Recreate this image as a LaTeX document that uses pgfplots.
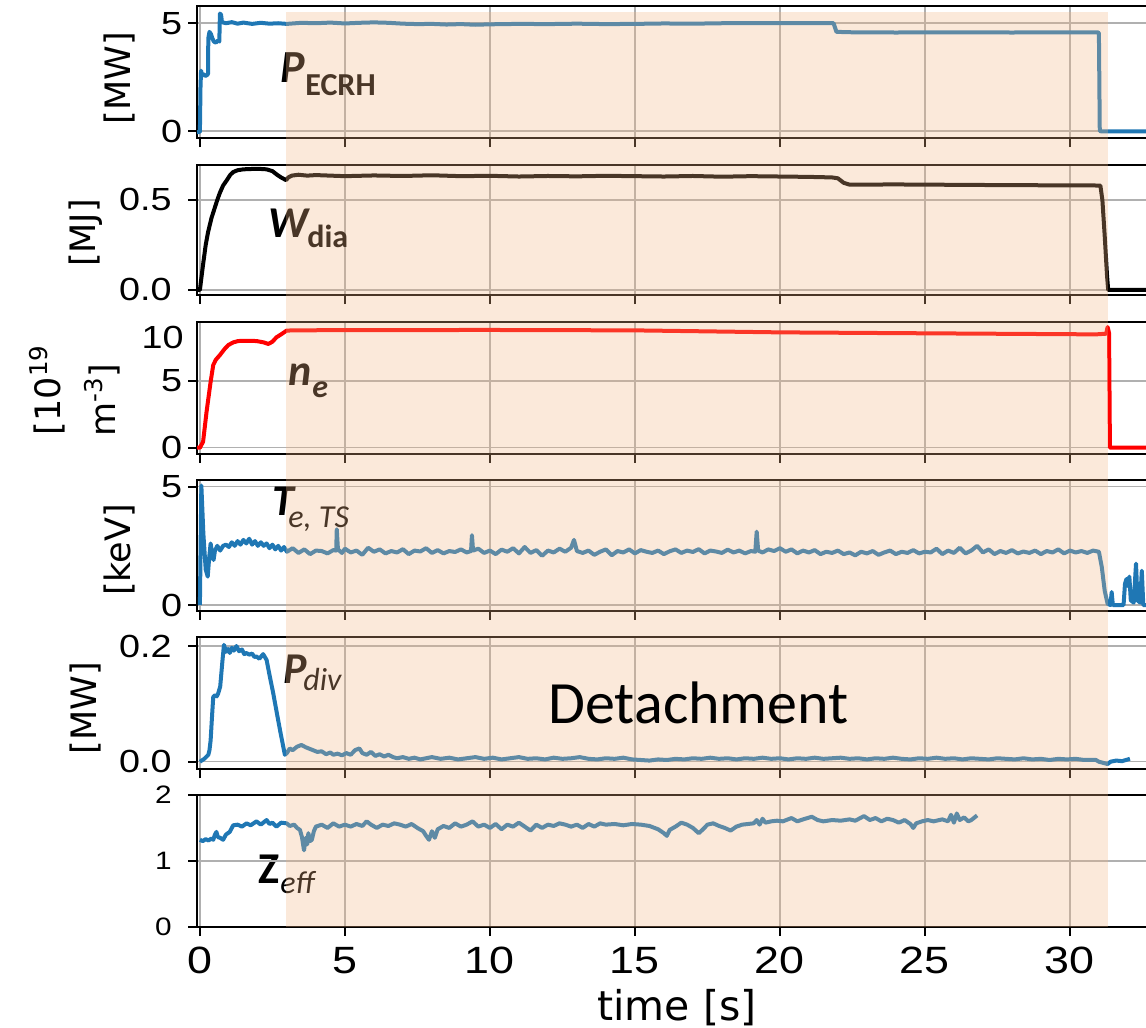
\documentclass[border=0pt]{standalone}
\usepackage{fontspec}
\setmainfont{DejaVu Sans}
\newfontfamily\calfont{Carlito}
\newfontfamily\tickfont[FakeStretch=1.18]{Liberation Sans}
\usepackage{pgfplots}
\usepackage{pgfplotstable}
\pgfplotsset{compat=1.18}
\definecolor{tabblue}{RGB}{31,119,180}
\definecolor{gridgray}{RGB}{176,176,176}
\definecolor{shadecol}{RGB}{242,182,132}

\pgfplotstableread{
x y
-0.1 -0.05
0.0 -0.05
0.02 2.0
0.04 2.8
0.07 2.6
0.12 2.65
0.18 2.55
0.25 2.6
0.28 2.65
0.29 4.3
0.33 4.6
0.38 4.5
0.43 4.3
0.48 4.15
0.55 4.1
0.62 4.2
0.67 4.15
0.69 5.45
0.73 5.4
0.76 5.05
0.9 5.0
1.1 5.05
1.3 4.98
1.5 5.03
1.8 4.97
2.1 5.02
2.4 4.98
2.7 5.0
3.0 4.97
3.5 5.02
4.0 5.0
4.5 5.03
5.0 4.99
5.5 5.02
6.0 5.04
6.5 5.02
7.0 4.98
7.5 4.96
8.0 4.97
8.5 4.94
9.0 4.96
9.5 4.93
10.0 4.95
11.0 4.97
12.0 4.96
13.0 4.98
14.0 4.96
15.0 4.97
16.0 4.99
17.0 4.98
18.0 5.0
19.0 5.01
20.0 5.0
21.0 5.01
21.85 5.0
21.95 4.6
22.5 4.58
24.0 4.57
26.0 4.58
28.0 4.57
30.0 4.58
30.95 4.58
31.0 4.55
31.03 0.0
31.1 -0.02
33.5 -0.02
}\tabP
\pgfplotstableread{
x y
-0.1 0.0
0.0 0.0
0.1 0.13
0.2 0.25
0.28 0.32
0.4 0.40
0.52 0.46
0.6 0.50
0.69 0.54
0.8 0.58
0.93 0.61
1.05 0.64
1.15 0.655
1.3 0.665
1.5 0.67
1.8 0.672
2.1 0.672
2.3 0.67
2.5 0.66
2.66 0.64
2.8 0.625
2.97 0.61
3.05 0.625
3.17 0.635
3.4 0.64
3.7 0.635
4.0 0.638
5.0 0.632
6.0 0.636
7.0 0.633
8.0 0.637
9.0 0.632
10.0 0.634
11.0 0.63
12.0 0.633
13.0 0.631
14.0 0.634
15.0 0.632
16.0 0.63
17.0 0.633
18.0 0.629
19.0 0.632
20.0 0.63
21.0 0.628
21.8 0.625
22.0 0.62
22.2 0.595
22.4 0.585
24.0 0.586
26.0 0.584
28.0 0.582
30.0 0.581
31.05 0.58
31.12 0.50
31.2 0.30
31.28 0.08
31.32 0.0
33.5 0.0
}\tabW
\pgfplotstableread{
x y
-0.1 0.0
0.0 0.0
0.11 0.45
0.23 2.7
0.37 4.95
0.46 6.2
0.55 6.6
0.69 6.95
0.85 7.4
0.98 7.7
1.15 7.9
1.32 8.0
1.6 8.02
1.95 8.0
2.2 7.9
2.36 7.78
2.5 7.95
2.64 8.28
2.8 8.5
2.99 8.78
3.2 8.8
5.0 8.82
10.0 8.83
15.0 8.8
20.0 8.65
25.0 8.58
30.9 8.5
31.25 8.55
31.3 9.05
31.35 8.6
31.38 0.0
33.5 0.0
}\tabN
\pgfplotstableread{
x y
0.0 0.0
0.05 5.05
0.12 3.0
0.2 1.5
0.27 1.2
0.32 2.0
0.37 2.6
0.42 2.2
0.47 1.9
0.52 2.3
0.6 2.5
0.7 2.3
0.8 2.5
0.9 2.55
1.0 2.45
1.1 2.65
1.2 2.5
1.3 2.7
1.4 2.55
1.5 2.75
1.6 2.6
1.7 2.8
1.8 2.55
1.9 2.7
2.0 2.5
2.1 2.65
2.2 2.5
2.3 2.6
2.4 2.4
2.5 2.55
2.6 2.35
2.7 2.5
2.8 2.3
2.9 2.45
3.0 2.25
3.2 2.40
3.4 2.20
3.6 2.35
3.8 2.15
4.0 2.30
4.2 2.28
4.4 2.18
4.6 2.32
4.7 2.30
4.72 3.2
4.76 2.35
4.9 2.20
5.0 2.38
5.2 2.22
5.4 2.30
5.6 2.12
5.8 2.42
6.0 2.25
6.2 2.35
6.4 2.18
6.6 2.28
6.8 2.22
7.0 2.36
7.2 2.15
7.4 2.30
7.6 2.26
7.8 2.40
8.0 2.20
8.2 2.32
8.4 2.18
8.6 2.28
8.8 2.24
9.0 2.35
9.2 2.22
9.35 2.28
9.38 2.95
9.42 2.30
9.6 2.38
9.8 2.20
10.0 2.30
10.2 2.15
10.4 2.34
10.6 2.25
10.8 2.40
11.0 2.18
11.2 2.45
11.4 2.20
11.6 2.32
11.8 2.08
12.0 2.30
12.2 2.22
12.4 2.38
12.6 2.25
12.8 2.42
12.9 2.75
13.0 2.28
13.2 2.20
13.4 2.30
13.6 2.12
13.8 2.25
14.0 2.35
14.2 2.10
14.4 2.28
14.6 2.22
14.8 2.35
15.0 2.18
15.2 2.32
15.4 2.25
15.6 2.20
15.8 2.30
16.0 2.15
16.2 2.27
16.4 2.35
16.6 2.20
16.8 2.30
17.0 2.24
17.2 2.36
17.4 2.18
17.6 2.30
17.8 2.26
18.0 2.20
18.2 2.34
18.4 2.22
18.6 2.30
18.8 2.18
19.0 2.28
19.15 2.25
19.2 3.1
19.25 2.30
19.4 2.22
19.6 2.35
19.8 2.28
20.0 2.40
20.2 2.25
20.4 2.35
20.6 2.18
20.8 2.30
21.0 2.22
21.2 2.32
21.4 2.15
21.6 2.25
21.8 2.20
22.0 2.30
22.2 2.15
22.4 2.22
22.6 2.10
22.8 2.25
23.0 2.18
23.2 2.28
23.4 2.12
23.6 2.22
23.8 2.30
24.0 2.15
24.2 2.25
24.4 2.20
24.6 2.32
24.8 2.18
25.0 2.25
25.2 2.22
25.4 2.38
25.6 2.15
25.8 2.30
26.0 2.20
26.2 2.42
26.4 2.18
26.6 2.30
26.8 2.50
27.0 2.22
27.2 2.35
27.4 2.15
27.6 2.28
27.8 2.20
28.0 2.32
28.2 2.18
28.4 2.26
28.6 2.20
28.8 2.30
29.0 2.15
29.2 2.28
29.4 2.22
29.6 2.35
29.8 2.18
30.0 2.30
30.2 2.22
30.4 2.28
30.6 2.20
30.8 2.30
31.0 2.25
31.1 1.6
31.2 0.6
31.3 0.05
31.4 0.0
31.44 0.55
31.48 0.0
31.85 0.0
31.9 0.9
31.95 1.1
32.0 0.8
32.05 1.2
32.1 0.2
32.2 0.1
32.28 1.75
32.33 0.2
32.42 0.1
32.48 1.45
32.53 0.0
33.5 0.0
}\tabT
\pgfplotstableread{
x y
0.0 0.0
0.15 0.005
0.29 0.012
0.33 0.02
0.37 0.037
0.42 0.08
0.46 0.112
0.52 0.115
0.58 0.113
0.63 0.118
0.7 0.13
0.78 0.176
0.83 0.202
0.9 0.19
0.97 0.195
1.03 0.188
1.1 0.197
1.17 0.192
1.26 0.2
1.35 0.191
1.45 0.194
1.53 0.186
1.61 0.188
1.7 0.185
1.8 0.187
1.88 0.181
1.95 0.182
2.05 0.178
2.18 0.186
2.3 0.176
2.4 0.15
2.53 0.118
2.65 0.085
2.78 0.05
2.93 0.012
3.0 0.015
3.1 0.023
3.2 0.02
3.35 0.026
3.5 0.029
3.65 0.025
3.8 0.022
3.9 0.02
4.05 0.017
4.2 0.018
4.35 0.013
4.5 0.016
4.6 0.012
4.75 0.014
4.9 0.011
5.05 0.015
5.2 0.012
5.35 0.02
5.5 0.023
5.6 0.015
5.75 0.012
5.9 0.017
6.05 0.01
6.2 0.013
6.35 0.009
6.5 0.012
6.66 0.008
6.8 0.006
7.0 0.008
7.2 0.005
7.4 0.007
7.6 0.004
7.8 0.006
8.0 0.008
8.3 0.005
8.6 0.007
8.9 0.004
9.2 0.006
9.5 0.008
9.8 0.005
10.1 0.007
10.4 0.004
10.7 0.006
11.0 0.008
11.3 0.005
11.6 0.006
11.9 0.004
12.2 0.007
12.5 0.005
12.8 0.006
13.1 0.008
13.4 0.005
13.7 0.004
14.0 0.006
14.3 0.005
14.6 0.007
14.9 0.004
15.2 0.003
15.5 0.002
15.8 0.004
16.1 0.003
16.4 0.005
16.7 0.004
17.0 0.006
17.3 0.005
17.6 0.007
17.9 0.005
18.2 0.006
18.5 0.004
18.8 0.006
19.1 0.005
19.4 0.007
19.7 0.005
20.0 0.006
20.3 0.004
20.6 0.006
20.9 0.005
21.2 0.007
21.5 0.005
21.8 0.006
22.1 0.007
22.4 0.005
22.7 0.006
23.0 0.004
23.3 0.006
23.6 0.005
23.9 0.007
24.2 0.005
24.5 0.004
24.8 0.006
25.1 0.005
25.4 0.007
25.7 0.005
26.0 0.006
26.3 0.004
26.6 0.006
26.9 0.005
27.2 0.004
27.5 0.006
27.8 0.005
28.1 0.004
28.4 0.006
28.7 0.004
29.0 0.005
29.3 0.003
29.6 0.005
29.9 0.004
30.2 0.005
30.5 0.003
30.9 0.003
31.0 0.0
31.3 -0.004
31.4 0.0
31.6 0.002
31.8 0.001
32.0 0.004
32.07 0.005
}\tabD
\pgfplotstableread{
x y
0.0 1.32
0.1 1.30
0.2 1.33
0.3 1.31
0.4 1.34
0.46 1.32
0.52 1.40
0.57 1.44
0.62 1.36
0.7 1.35
0.8 1.32
0.9 1.40
1.03 1.44
1.1 1.50
1.15 1.54
1.3 1.55
1.45 1.52
1.61 1.57
1.75 1.54
1.95 1.60
2.1 1.55
2.3 1.62
2.4 1.56
2.5 1.58
2.64 1.52
2.8 1.58
2.99 1.57
3.1 1.53
3.25 1.55
3.35 1.50
3.45 1.47
3.52 1.36
3.59 1.16
3.65 1.35
3.7 1.25
3.74 1.42
3.8 1.30
3.86 1.32
3.93 1.45
4.0 1.52
4.2 1.55
4.4 1.50
4.6 1.57
4.8 1.52
5.0 1.55
5.2 1.52
5.4 1.56
5.6 1.53
5.75 1.60
5.9 1.55
6.1 1.50
6.3 1.55
6.5 1.53
6.7 1.57
6.9 1.55
7.1 1.52
7.3 1.56
7.5 1.50
7.7 1.45
7.8 1.38
7.9 1.32
8.0 1.45
8.1 1.35
8.2 1.48
8.4 1.53
8.6 1.50
8.8 1.57
9.0 1.52
9.2 1.55
9.4 1.60
9.6 1.52
9.8 1.55
10.0 1.50
10.2 1.56
10.4 1.48
10.6 1.55
10.8 1.52
11.0 1.58
11.2 1.52
11.4 1.46
11.6 1.55
11.8 1.50
12.0 1.55
12.2 1.53
12.4 1.57
12.6 1.55
12.8 1.52
13.0 1.55
13.2 1.50
13.4 1.56
13.6 1.52
13.8 1.57
14.0 1.55
14.3 1.56
14.6 1.54
14.9 1.56
15.2 1.55
15.5 1.53
15.8 1.48
16.0 1.42
16.1 1.38
16.2 1.47
16.4 1.52
16.6 1.58
16.8 1.55
17.0 1.50
17.2 1.42
17.35 1.48
17.5 1.55
17.7 1.57
17.9 1.53
18.1 1.50
18.3 1.46
18.5 1.52
18.7 1.55
18.9 1.56
19.1 1.57
19.2 1.62
19.3 1.55
19.4 1.64
19.5 1.58
19.7 1.60
19.9 1.61
20.1 1.60
20.4 1.65
20.6 1.60
20.8 1.63
21.1 1.67
21.3 1.62
21.5 1.60
21.8 1.62
22.1 1.61
22.4 1.63
22.6 1.61
22.9 1.68
23.1 1.62
23.3 1.65
23.5 1.60
23.7 1.64
23.9 1.62
24.1 1.58
24.3 1.62
24.5 1.56
24.6 1.50
24.7 1.57
24.9 1.60
25.1 1.62
25.3 1.60
25.6 1.63
25.8 1.60
25.9 1.70
26.0 1.58
26.1 1.72
26.2 1.62
26.35 1.66
26.5 1.60
26.6 1.62
26.8 1.69
}\tabZ

\pgfplotsset{
  panel/.style={
    scale only axis, width=487.2pt, xmin=-0.1, xmax=33.5,
    anchor=north west, tick pos=left, tick align=outside,
    major tick length=4.5pt, xtick={0,5,...,30},
    grid=major, major grid style={line width=0.75pt, gridgray},
    axis line style={line width=1pt},
    every tick/.style={black, line width=1pt},
    /pgf/number format/assume math mode=true,
    yticklabel style={font=\tickfont\fontsize{16}{16}\selectfont, anchor=east, inner sep=0pt},
    xticklabels={},
  },
  near/.style={yticklabel style={xshift=-2.75pt}},
  far/.style={yticklabel style={xshift=-8pt}},
  dat/.style={line width=2pt, line join=round},
}

\begin{document}
\begin{tikzpicture}
\useasboundingbox (0,0) rectangle (573pt,-514pt);
\clip (0,0) rectangle (573pt,-514pt);

% Panel 1: P_ECRH
\begin{axis}[panel, near, at={(98.5pt,-3pt)}, height=66pt,
  ymin=-0.325, ymax=5.80, ytick={0,5}]
\addplot[dat, tabblue] table {\tabP};
\end{axis}

% Panel 2: W_dia
\begin{axis}[panel, far, at={(98.5pt,-82.5pt)}, height=65pt,
  ymin=-0.028, ymax=0.694, ytick={0,0.5},
  yticklabel style={/pgf/number format/fixed, /pgf/number format/fixed zerofill, /pgf/number format/precision=1}]
\addplot[dat, black] table {\tabW};
\end{axis}

% Panel 3: n_e
\begin{axis}[panel, near, at={(98.5pt,-160.85pt)}, height=66.15pt,
  ymin=-0.47, ymax=9.45, ytick={0,5}]
\addplot[dat, red] table {\tabN};
\end{axis}

% Panel 4: T_e
\begin{axis}[panel, near, at={(98.5pt,-240pt)}, height=65.35pt,
  ymin=-0.24, ymax=5.28, ytick={0,5}]
\addplot[dat, tabblue] table {\tabT};
\end{axis}

% Panel 5: P_div
\begin{axis}[panel, far, at={(98.5pt,-318.5pt)}, height=66.15pt,
  ymin=-0.0131, ymax=0.2156, ytick={0,0.2},
  yticklabel style={/pgf/number format/fixed, /pgf/number format/fixed zerofill, /pgf/number format/precision=1}]
\addplot[dat, tabblue] table {\tabD};
\end{axis}

% annotations (under the shading)
\begin{scope}[every node/.style={inner sep=0pt, anchor=base west}]
\node[font=\calfont\fontsize{23}{23}\selectfont\bfseries\itshape] at (140pt,-41.5pt) {P};
\node[font=\calfont\fontsize{16}{16}\selectfont\bfseries] at (152.5pt,-47.5pt) {ECRH};
\node[font=\calfont\fontsize{22}{22}\selectfont\bfseries\itshape] at (134pt,-118.5pt) {W};
\node[font=\calfont\fontsize{16}{16}\selectfont\bfseries] at (153.5pt,-123.5pt) {dia};
\node[font=\calfont\fontsize{22}{22}\selectfont\bfseries\itshape] at (144pt,-192.5pt) {n};
\node[font=\calfont\fontsize{16}{16}\selectfont\bfseries\itshape] at (156pt,-198.5pt) {e};
\node[font=\calfont\fontsize{22}{22}\selectfont\bfseries\itshape] at (136pt,-257.5pt) {T};
\node[font=\calfont\fontsize{16}{16}\selectfont\itshape] at (144pt,-263.5pt) {e, TS};
\node[font=\calfont\fontsize{22}{22}\selectfont\bfseries\itshape] at (141.5pt,-341.5pt) {P};
\node[font=\calfont\fontsize{16}{16}\selectfont\itshape] at (151.5pt,-345pt) {div};
\node[font=\calfont\fontsize{22}{22}\selectfont\bfseries] at (129pt,-441.5pt) {Z};
\node[font=\calfont\fontsize{16}{16}\selectfont\itshape] at (140pt,-446.5pt) {eff};
\end{scope}

% Panel 6: Z_eff with shading overlay
\begin{axis}[panel, far, at={(98.5pt,-397.5pt)}, height=65.85pt,
  ymin=0, ymax=2, ytick={0,1,2}, clip=false,
  yticklabel style={font=\tickfont\fontsize{12.6}{12.6}\selectfont},
  xticklabels={0,5,10,15,20,25,30},
  xticklabel style={font=\tickfont\fontsize{19}{19}\selectfont, anchor=north, inner sep=0pt, yshift=-5.5pt}]
\addplot[dat, tabblue] table {\tabZ};
\addplot[draw=none, fill=shadecol, fill opacity=0.3, forget plot]
  coordinates {(2.97,0) (31.32,0) (31.32,13.89) (2.97,13.89)} -- cycle;
\end{axis}

% labels
\node[font=\calfont\fontsize{30}{30}\selectfont, anchor=base west, inner sep=0pt] at (274pt,-361.5pt) {Detachment};
\node[font=\fontsize{20.5}{20.5}\selectfont, anchor=base, inner sep=0pt] at (338.5pt,-510pt) {time [s]};
\begin{scope}[every node/.style={font=\fontsize{17.5}{17.5}\selectfont, rotate=90, inner sep=0pt}]
\node[anchor=center] at (60pt,-39pt) {[MW]};
\node[anchor=center] at (43pt,-116.5pt) {[MJ]};
\node[anchor=base] at (30pt,-195pt) {[10\textsuperscript{19}};
\node[anchor=base] at (57.5pt,-200pt) {m\textsuperscript{-3}]};
\node[anchor=center] at (60pt,-275pt) {[keV]};
\node[anchor=center] at (43pt,-354pt) {[MW]};
\end{scope}
\node[font=\tickfont\fontsize{16}{16}\selectfont, anchor=east, inner sep=0pt] at (92pt,-168.5pt) {10};
\end{tikzpicture}
\end{document}
